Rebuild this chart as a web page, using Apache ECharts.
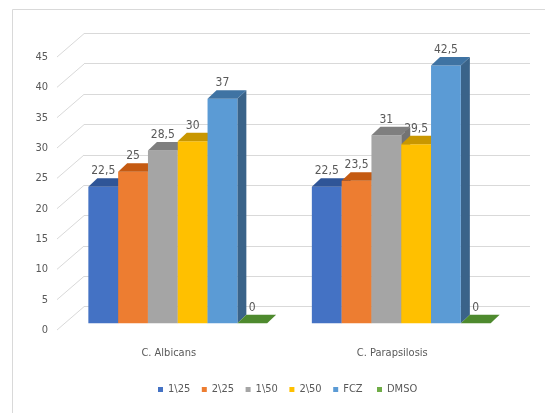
<!DOCTYPE html>
<html>
<head>
<meta charset="utf-8">
<script src="https://cdn.jsdelivr.net/npm/echarts@6/dist/echarts.min.js"></script>
<style>
  html, body { margin: 0; padding: 0; background: #ffffff; }
  #chart { width: 545px; height: 413px; }
</style>
</head>
<body>
<div id="chart"></div>
<script>
// Inhibition zones per strain and treatment
const categories = ['C. Albicans', 'C. Parapsilosis'];
const seriesNames = ['1\\25', '2\\25', '1\\50', '2\\50', 'FCZ', 'DMSO'];
const v1_25 = [22.5, 22.5];
const v2_25 = [25, 23.5];
const v1_50 = [28.5, 31];
const v2_50 = [30, 29.5];
const vFCZ = [37, 42.5];
const vDMSO = [0, 0];
const yTicks = [0, 5, 10, 15, 20, 25, 30, 35, 40, 45];

const seriesValues = [v1_25, v2_25, v1_50, v2_50, vFCZ, vDMSO];

// Face colours: front, top, side
const faceColors = [
  ['#4472C4', '#2F5597', '#2A4D8A'],
  ['#ED7D31', '#C55A11', '#B0500F'],
  ['#A5A5A5', '#7F7F7F', '#737373'],
  ['#FFC000', '#C99700', '#B58A00'],
  ['#5B9BD5', '#3F73A3', '#3A6389'],
  ['#70AD47', '#4E8A2E', '#467C29']
];

const FONT = "'Liberation Sans Narrow', 'DejaVu Sans Condensed', 'Liberation Sans', sans-serif";
const TEXT = '#595959';
const GRIDLINE = '#D9D9D9';

// Depth of the wall behind the bars and of the bars themselves (pixels)
const WALL_DX = 27, WALL_DY = -23.3;
const BAR_DX = 9, BAR_DY = -8.5;
const GROUP_RATIO = 0.8;

// Legend entries are laid out on a fixed pitch
const LEGEND_LEFT = 158, LEGEND_PITCH = 43.8, LEGEND_TOP = 384;

const fmt = v => String(v).replace('.', ',');

const chart = echarts.init(document.getElementById('chart'), null, { renderer: 'canvas' });

function barRenderer(sIdx) {
  return function (params, api) {
    const cat = api.value(0);
    const val = api.value(1);
    const base = api.coord([cat, 0]);
    const topPt = api.coord([cat, val]);
    const catW = api.size([1, 0])[0];
    const groupW = catW * GROUP_RATIO;
    const bw = groupW / seriesNames.length;
    const x0 = base[0] - groupW / 2 + sIdx * bw;
    const x1 = x0 + bw;
    const yb = base[1];
    const yt = topPt[1];
    const c = faceColors[sIdx];
    const children = [];
    if (yb - yt > 0.01) {
      children.push({
        type: 'polygon', z2: 10,
        shape: { points: [[x1, yt], [x1 + BAR_DX, yt + BAR_DY], [x1 + BAR_DX, yb + BAR_DY], [x1, yb]] },
        style: { fill: c[2] }
      });
      children.push({
        type: 'rect', z2: 10,
        shape: { x: x0, y: yt, width: bw, height: yb - yt },
        style: { fill: c[0] }
      });
    }
    children.push({
      type: 'polygon', z2: 10,
      shape: { points: [[x0, yt], [x1, yt], [x1 + BAR_DX, yt + BAR_DY], [x0 + BAR_DX, yt + BAR_DY]] },
      style: { fill: c[1] }
    });
    // value label sits just above the top face, drawn beneath all bar faces
    children.push({
      type: 'text', z2: 0,
      x: x0 + bw / 2, y: yt + BAR_DY - 1,
      style: {
        text: fmt(val), fill: TEXT, font: '12px ' + FONT,
        align: 'center', verticalAlign: 'bottom'
      }
    });
    return { type: 'group', children: children };
  };
}

const barSeries = seriesNames.map((name, i) => ({
  type: 'custom',
  name: name,
  xAxisIndex: 1,
  yAxisIndex: 1,
  renderItem: barRenderer(i),
  itemStyle: { color: faceColors[i][0] },
  encode: { x: 0, y: 1 },
  data: seriesValues[i].map((v, c) => [c, v]),
  silent: true
}));

// Diagonal grid lines on the left wall, from the front edge to the back wall
const wallSeries = {
  type: 'custom',
  name: 'wall',
  xAxisIndex: 0,
  yAxisIndex: 0,
  silent: true,
  z: 1,
  renderItem: function (params, api) {
    const y = api.coord([0, api.value(0)])[1];
    const x = params.coordSys.x;
    return {
      type: 'line',
      shape: { x1: x, y1: y, x2: x + WALL_DX, y2: y + WALL_DY },
      style: { stroke: GRIDLINE, lineWidth: 1 }
    };
  },
  encode: { y: 0 },
  data: yTicks.map(t => [t])
};

const valueAxisBase = { type: 'value', min: 0, max: 45, interval: 5 };

const legends = seriesNames.map((name, i) => ({
  data: [name],
  left: LEGEND_LEFT + i * LEGEND_PITCH,
  top: LEGEND_TOP,
  padding: 0,
  itemWidth: 5,
  itemHeight: 5,
  icon: 'rect',
  selectedMode: false,
  textStyle: { color: TEXT, fontSize: 11, fontFamily: FONT }
}));

const option = {
  backgroundColor: '#ffffff',
  animation: false,
  color: faceColors.map(c => c[0]),
  graphic: [{
    type: 'rect',
    shape: { x: 12.5, y: 9.5, width: 600, height: 500 },
    style: { fill: null, stroke: GRIDLINE, lineWidth: 1 },
    silent: true
  }],
  grid: [
    { left: 57, top: 57, width: 447, height: 273 },        // front edge of the floor
    { left: 66, top: 50.3, width: 447, height: 273 },      // plane of the bar fronts
    { left: 84, top: 33.3, width: 446, height: 273.4 }     // back wall
  ],
  xAxis: [
    {
      type: 'category', gridIndex: 0, data: categories,
      axisLine: { show: false }, axisTick: { show: false },
      axisLabel: { color: TEXT, fontSize: 11, fontFamily: FONT, margin: 18 }
    },
    {
      type: 'category', gridIndex: 1, data: categories, show: false
    },
    {
      type: 'category', gridIndex: 2, data: categories, show: false
    }
  ],
  yAxis: [
    Object.assign({}, valueAxisBase, {
      gridIndex: 0,
      axisLine: { show: false }, axisTick: { show: false }, splitLine: { show: false },
      axisLabel: { color: TEXT, fontSize: 11, fontFamily: FONT, margin: 9 }
    }),
    Object.assign({}, valueAxisBase, { gridIndex: 1, show: false }),
    Object.assign({}, valueAxisBase, {
      gridIndex: 2,
      axisLine: { show: false }, axisTick: { show: false }, axisLabel: { show: false },
      splitLine: { show: true, lineStyle: { color: GRIDLINE, width: 1 } }
    })
  ],
  legend: legends,
  series: [wallSeries].concat(barSeries)
};

chart.setOption(option);
</script>
</body>
</html>
